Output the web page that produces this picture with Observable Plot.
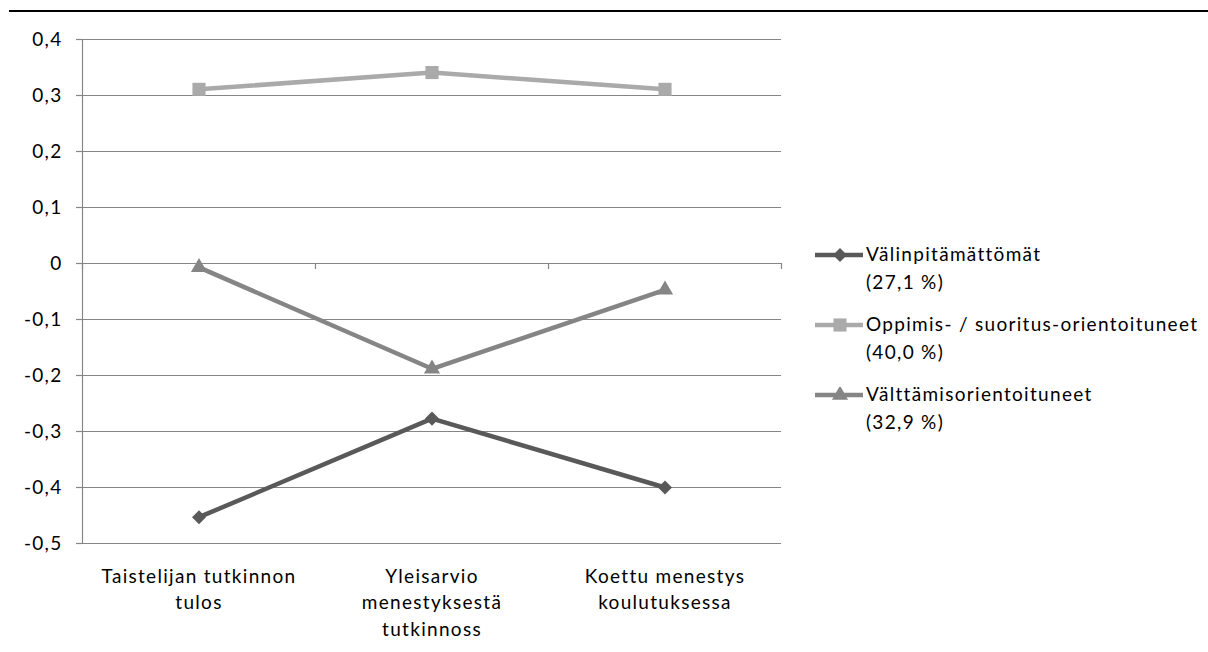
<!DOCTYPE html>
<html>
<head>
<meta charset="utf-8">
<script src="https://cdn.jsdelivr.net/npm/d3@7"></script>
<script src="https://cdn.jsdelivr.net/npm/@observablehq/plot@0.6"></script>
<style>
  html, body { margin: 0; padding: 0; background: #fff; }
  #wrap { position: relative; width: 1208px; height: 652px; font-family: Lato, "Open Sans", sans-serif; }
  #rule { position: absolute; left: 9px; right: 0; top: 10px; height: 0; border-top: 2px solid #000; }
  #legend { position: absolute; left: 815px; top: 240px; font-size: 19px; letter-spacing: 1.3px; color: #000; }
  .item { position: relative; height: 70px; }
  .item svg { position: absolute; left: 0; top: 7px; }
  .item .lab { position: absolute; left: 51px; top: 0; line-height: 28px; white-space: nowrap; }
</style>
</head>
<body>
<div id="wrap"><div id="rule"></div><div id="legend"></div></div>
<script>
// Categories along the x axis (each label split into its printed lines)
const categories = [
  ["Taistelijan tutkinnon", "tulos"],
  ["Yleisarvio", "menestyksestä", "tutkinnoss"],
  ["Koettu menestys", "koulutuksessa"]
];

// Series names with group shares, and their mean values per category
const seriesNames = ["Välinpitämättömät", "Oppimis- / suoritus-orientoituneet", "Välttämisorientoituneet"];
const seriesShares = ["(27,1 %)", "(40,0 %)", "(32,9 %)"];
const valinpitamattomat = [-0.453, -0.277, -0.40];
const oppimis = [0.311, 0.341, 0.311];
const valttamis = [-0.007, -0.188, -0.047];

const yTicks = [0.4, 0.3, 0.2, 0.1, 0, -0.1, -0.2, -0.3, -0.4, -0.5];

// Marker styling per series: the diamond is a square turned by 45°
const colors = ["#595959", "#aaaaaa", "#858585"];
const symbols = ["square", "square", "triangle"];
const rotations = [45, 0, 0];
const sizes = [5.6, 7.4, 6.0];

const seriesValues = [valinpitamattomat, oppimis, valttamis];
const rows = seriesValues.flatMap((vals, s) =>
  vals.map((v, i) => ({series: seriesNames[s], s, i: i + 0.5, v}))
);
const catRows = categories.map((lines, i) => ({i: i + 0.5, text: lines.join("\n")}));
const boundaries = d3.range(categories.length + 1);

const fmt = d => d === 0 ? "0" : (d < 0 ? "-" : "") + Math.abs(d).toFixed(1).replace(".", ",");
const gridColor = "#868686";

const chart = Plot.plot({
  width: 1208,
  height: 652,
  marginLeft: 82,
  marginRight: 427,
  marginTop: 39,
  marginBottom: 109,
  style: {fontFamily: "Lato, 'Open Sans', sans-serif", fontSize: "19px", letterSpacing: "1.3px", color: "#000", background: "transparent"},
  x: {type: "linear", domain: [0, categories.length], axis: null},
  y: {type: "linear", domain: [-0.5, 0.4], axis: null},
  r: {type: "identity"},
  marks: [
    // horizontal gridlines
    Plot.ruleY(yTicks, {stroke: gridColor, strokeWidth: 1.2}),
    // vertical axis line and its outward ticks
    Plot.ruleX([0], {stroke: gridColor, strokeWidth: 1.2}),
    Plot.ruleY(yTicks, {x1: 0, x2: 0, insetLeft: -6, stroke: gridColor, strokeWidth: 1.2}),
    Plot.text(yTicks, {x: 0, y: d => d, text: fmt, textAnchor: "end", dx: -20, fontSize: 19}),
    // category boundary ticks hanging from the zero line
    Plot.ruleX(boundaries, {y1: 0, y2: 0, insetBottom: -6, stroke: gridColor, strokeWidth: 1.2}),
    // series lines and markers
    Plot.line(rows, {x: "i", y: "v", z: "series", stroke: d => colors[d.s], strokeWidth: 4.5, strokeLinejoin: "miter"}),
    Plot.dot(rows, {x: "i", y: "v", symbol: d => symbols[d.s], rotate: d => rotations[d.s], fill: d => colors[d.s], r: d => sizes[d.s], stroke: "none"}),
    // category labels below the plot
    Plot.text(catRows, {x: "i", y: -0.5, text: "text", lineAnchor: "top", dy: 21, lineHeight: 1.38, fontSize: 19})
  ]
});

document.getElementById("wrap").prepend(chart);
chart.style.position = "absolute";
chart.style.left = "0";
chart.style.top = "0";

// Legend: line sample with marker, then the series name and share
const legend = d3.select("#legend");
seriesNames.forEach((name, s) => {
  const item = legend.append("div").attr("class", "item");
  const sv = item.append("svg").attr("width", 50).attr("height", 16);
  sv.append("line").attr("x1", 0).attr("x2", 48).attr("y1", 8).attr("y2", 8)
    .attr("stroke", colors[s]).attr("stroke-width", 4.5);
  const sym = {square: d3.symbolSquare, triangle: d3.symbolTriangle}[symbols[s]];
  sv.append("path").attr("transform", `translate(25,8) rotate(${rotations[s]})`)
    .attr("d", d3.symbol(sym, Math.PI * sizes[s] * sizes[s])())
    .attr("fill", colors[s]);
  item.append("div").attr("class", "lab").html(name + "<br>" + seriesShares[s]);
});
</script>
</body>
</html>
